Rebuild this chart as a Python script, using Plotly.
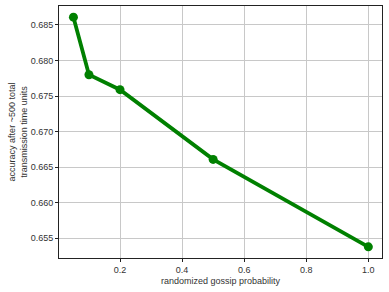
import plotly.graph_objects as go

probs = [0.05, 0.1, 0.2, 0.5, 1.0]
accuracy = [0.6861, 0.6780, 0.6759, 0.6661, 0.6538]
y_ticks = [0.655, 0.660, 0.665, 0.670, 0.675, 0.680, 0.685]
x_ticks = [0.2, 0.4, 0.6, 0.8, 1.0]

fig = go.Figure(go.Scatter(
    x=probs, y=accuracy, mode="lines+markers",
    line=dict(color="green", width=3.8),
    marker=dict(color="green", size=9),
))
axis_common = dict(
    showgrid=True, gridcolor="#c8c8c8", gridwidth=1,
    showline=True, linecolor="#222", linewidth=1, mirror=True,
    ticks="outside", ticklen=3, tickcolor="#222", zeroline=False,
    tickfont=dict(size=9, color="#333"), automargin=False,
)
fig.update_layout(
    width=389, height=292,
    margin=dict(l=59, r=7, t=6, b=34),
    paper_bgcolor="white", plot_bgcolor="white",
    font=dict(family="Liberation Sans, Arial, sans-serif", size=9, color="#333"),
    showlegend=False,
    xaxis=dict(range=[0.0035, 1.044], tickvals=x_ticks, tickformat=".1f",
               title=dict(text="randomized gossip probability", font=dict(size=9), standoff=3),
               **axis_common),
    yaxis=dict(range=[0.65223, 0.68767], tickvals=y_ticks, tickformat=".3f",
               title=dict(text="accuracy after ~500 total<br>transmission time units", font=dict(size=9), standoff=1),
               **axis_common),
)
fig.write_html("out.html", config={"displayModeBar": False},
               post_script="document.body.style.margin='0px';document.body.style.padding='0px';")
